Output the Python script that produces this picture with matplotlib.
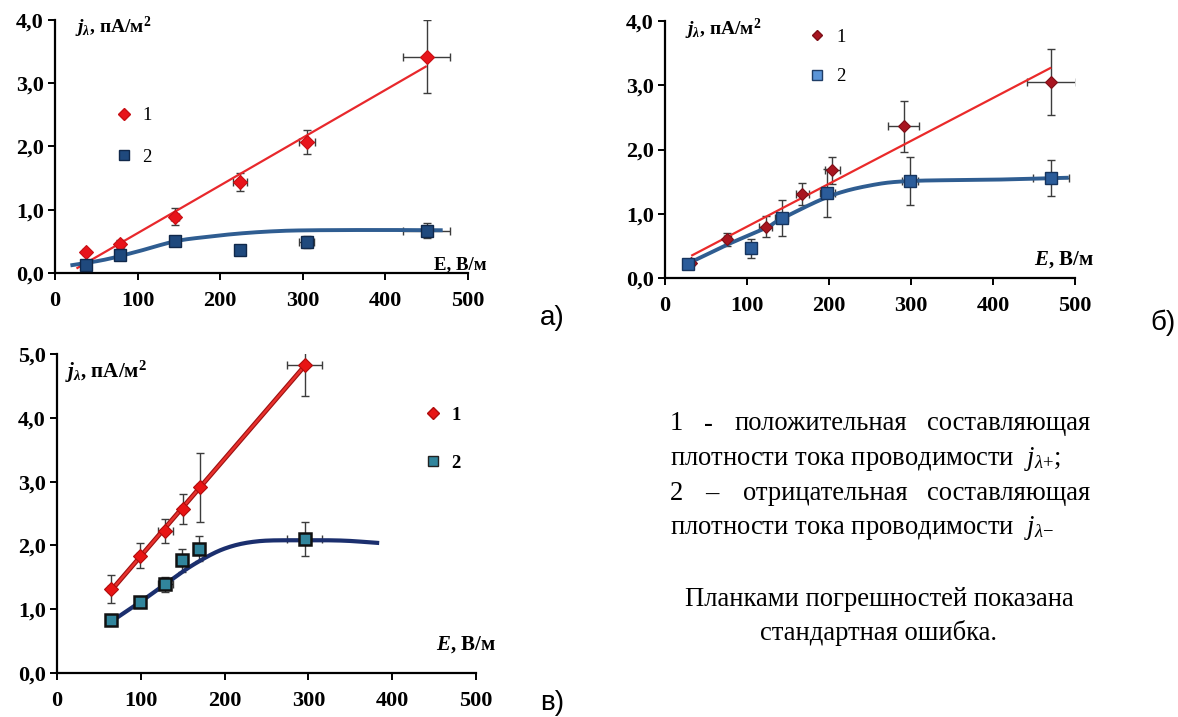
import numpy as np
import matplotlib
matplotlib.use('Agg')
import matplotlib.pyplot as plt
from matplotlib.lines import Line2D

plt.rcParams['font.family'] = ['Liberation Serif', 'DejaVu Serif']
plt.rcParams['mathtext.fontset'] = 'custom'
plt.rcParams['mathtext.rm'] = 'Liberation Serif:bold'
plt.rcParams['mathtext.it'] = 'Liberation Serif:italic:bold'
plt.rcParams['mathtext.cal'] = 'Liberation Serif:italic'
plt.rcParams['mathtext.sf'] = 'Liberation Serif'

# ---- панель а) ----
a_E = [37, 79, 145, 224, 305, 450]
a_E_err1 = [3, 4, 5, 8, 9.5, 28.5]
a_j1 = [0.33, 0.46, 0.89, 1.44, 2.07, 3.42]
a_j1_err = [0.03, 0.06, 0.13, 0.14, 0.19, 0.58]
a_E_err2 = [3, 3, 5, 5, 9, 28.5]
a_j2 = [0.13, 0.28, 0.51, 0.36, 0.49, 0.67]
a_j2_err = [0.03, 0.03, 0.08, 0.04, 0.09, 0.12]
a_line_range = [26, 450]
a_trend_E = [21, 60, 100, 145, 183, 224, 265, 306, 390, 467]
a_trend_j = [0.125, 0.21, 0.34, 0.50, 0.57, 0.625, 0.66, 0.675, 0.68, 0.676]

# ---- панель б) ----
b_E1 = [32, 76, 123, 167.5, 204, 291, 471]
b_E1_err = [2, 4, 8, 8, 9, 19, 30]
b_j1 = [0.23, 0.60, 0.80, 1.31, 1.68, 2.36, 3.05]
b_j1_err = [0.02, 0.10, 0.16, 0.17, 0.21, 0.40, 0.52]
b_E2 = [28, 105, 142.5, 198, 299, 471]
b_E2_err = [2, 3, 8, 9, 10, 22]
b_j2 = [0.22, 0.46, 0.94, 1.32, 1.51, 1.55]
b_j2_err = [0.03, 0.15, 0.28, 0.37, 0.38, 0.28]
b_line_range = [32, 471]
b_trend_E = [32, 76, 123, 142, 200, 250, 300, 400, 490]
b_trend_j = [0.25, 0.52, 0.78, 0.92, 1.27, 1.44, 1.51, 1.53, 1.56]

# ---- панель в) ----
c_E1 = [64, 99, 129, 150, 170.5, 295.5]
c_E1_err = [3, 3, 9, 3, 3, 20.5]
c_j1 = [1.31, 1.84, 2.23, 2.57, 2.91, 4.83]
c_j1_err = [0.22, 0.20, 0.19, 0.23, 0.54, 0.49]
c_E2 = [64, 98.5, 129, 148.6, 169.6, 295.5]
c_E2_err = [3, 3, 9, 3, 3, 20.5]
c_j2 = [0.83, 1.12, 1.39, 1.77, 1.95, 2.10]
c_j2_err = [0.03, 0.05, 0.12, 0.18, 0.20, 0.27]
c_line_range = [64, 295.5]
c_trend_E = [64, 98, 129, 163, 200, 240, 295, 341, 382]
c_trend_j = [0.80, 1.10, 1.39, 1.70, 1.95, 2.065, 2.08, 2.075, 2.04]

x_ticks = [0, 100, 200, 300, 400, 500]

W, H = 1178, 717
fig = plt.figure(figsize=(W / 100, H / 100), dpi=100)


def px(x, y):
    return x / W, 1 - y / H


def make_axes(l, t, r, b, ymax):
    ax = fig.add_axes([l / W, 1 - b / H, (r - l) / W, (b - t) / H])
    ax.set_xlim(0, 500)
    ax.set_ylim(0, ymax)
    ax.set_xticks(x_ticks)
    yt = np.arange(0, ymax + 0.01, 1.0)
    ax.set_yticks(yt)
    ax.set_yticklabels([f"{v:.1f}".replace('.', ',') for v in yt])
    for s in ['top', 'right']:
        ax.spines[s].set_visible(False)
    for s in ['left', 'bottom']:
        ax.spines[s].set_linewidth(1.6)
    ax.tick_params(direction='out', length=5, width=1.4, labelsize=16)
    ax.tick_params(axis='x', pad=8)
    ax.tick_params(axis='y', pad=3)
    for lab in ax.get_xticklabels() + ax.get_yticklabels():
        lab.set_fontweight('bold')
    ax.patch.set_alpha(0)
    return ax


def smooth(xs, ys, n=30):
    # Catmull-Rom через точки тренда
    p = np.column_stack([xs, ys]).astype(float)
    p = np.vstack([2 * p[0] - p[1], p, 2 * p[-1] - p[-2]])
    out = []
    t = np.linspace(0, 1, n)[:, None]
    for i in range(1, len(p) - 2):
        p0, p1, p2, p3 = p[i - 1], p[i], p[i + 1], p[i + 2]
        seg = 0.5 * ((2 * p1) + (-p0 + p2) * t + (2 * p0 - 5 * p1 + 4 * p2 - p3) * t ** 2
                     + (-p0 + 3 * p1 - 3 * p2 + p3) * t ** 3)
        out.append(seg)
    out = np.vstack(out)
    return out[:, 0], out[:, 1]


def draw_series(ax, E, Eerr, j, jerr, marker, ms, fc, ec, mew):
    ax.errorbar(E, j, yerr=jerr, xerr=Eerr, fmt='none', ecolor='#3c3c3c',
                elinewidth=1.0, capsize=3, capthick=1.0, zorder=2)
    ax.plot(E, j, linestyle='none', marker=marker, ms=ms, mfc=fc, mec=ec, mew=mew, zorder=4)


def trend_line(ax, E, j, rng, color, lw):
    k, b0 = np.polyfit(E, j, 1)
    xs = np.array(rng)
    ax.plot(xs, k * xs + b0, color=color, lw=lw, zorder=3, solid_capstyle='butt')


def legend(ax, h1, h2, bold, anchor, spacing):
    leg = ax.legend([h1, h2], ['1', '2'], loc='upper left', bbox_to_anchor=anchor,
                    frameon=False, handlelength=1.0, handletextpad=0.5,
                    labelspacing=spacing, borderaxespad=0,
                    prop={'family': 'Liberation Serif', 'size': 13.5,
                          'weight': 'bold' if bold else 'normal'})
    return leg


# ---- а) ----
ax = make_axes(55, 20, 468, 273, 4.0)
trend_line(ax, a_E, a_j1, a_line_range, '#e8282c', 1.6)
ax.plot(*smooth(a_trend_E, a_trend_j), color='#2f5d91', lw=2.8, zorder=3)
draw_series(ax, a_E, a_E_err1, a_j1, a_j1_err, 'D', 7, '#e8141b', '#c80f14', 0.8)
draw_series(ax, a_E, a_E_err2, a_j2, a_j2_err, 's', 8, '#1f497d', '#10284a', 1.0)
legend(ax,
       Line2D([], [], ls='none', marker='D', ms=6, mfc='#e8141b', mec='#c80f14'),
       Line2D([], [], ls='none', marker='s', ms=7, mfc='#1f497d', mec='#10284a'),
       False, (0.1255, 0.686), 1.31)
fig.text(*px(75, 27), r'$j_{\lambda}$, пА/м$^{2}$', fontsize=14, fontweight='bold', va='center')
fig.text(*px(487, 265), 'E, В/м', fontsize=13.5, fontweight='bold', va='center', ha='right')

# ---- б) ----
ax = make_axes(665, 21, 1075, 278, 4.0)
trend_line(ax, b_E1, b_j1, b_line_range, '#ea2a2a', 1.6)
ax.plot(*smooth(b_trend_E, b_trend_j), color='#2f5d91', lw=2.8, zorder=3)
draw_series(ax, b_E1, b_E1_err, b_j1, b_j1_err, 'D', 6, '#a81520', '#7e0f18', 0.8)
draw_series(ax, b_E2, b_E2_err, b_j2, b_j2_err, 's', 8, '#2b5c9a', '#16345e', 1.0)
legend(ax,
       Line2D([], [], ls='none', marker='D', ms=5.5, mfc='#a81520', mec='#7e0f18'),
       Line2D([], [], ls='none', marker='s', ms=7, mfc='#5b95d8', mec='#1f3d66'),
       False, (0.33, 1.0), 1.2)
fig.text(*px(685, 29), r'$j_{\lambda}$, пА/м$^{2}$', fontsize=14, fontweight='bold', va='center')
fig.text(*px(1094, 260), r'$E$, В/м', fontsize=15, fontweight='bold', va='center', ha='right')

# ---- в) ----
ax = make_axes(57, 354, 476, 673, 5.0)
trend_line(ax, c_E1, c_j1, c_line_range, '#9c1010', 3.4)
trend_line(ax, c_E1, c_j1, c_line_range, '#e8302c', 1.8)
ax.plot(*smooth(c_trend_E, c_trend_j), color='#1b2f6e', lw=3.0, zorder=3)
draw_series(ax, c_E1, c_E1_err, c_j1, c_j1_err, 'D', 7, '#e81414', '#b00c0c', 0.8)
draw_series(ax, c_E2, c_E2_err, c_j2, c_j2_err, 's', 9, '#31859c', '#111111', 1.8)
legend(ax,
       Line2D([], [], ls='none', marker='D', ms=6, mfc='#e81414', mec='#b00c0c'),
       Line2D([], [], ls='none', marker='s', ms=7.5, mfc='#31859c', mec='#222222'),
       True, (0.856, 0.858), 1.63)
fig.text(*px(65, 372), r'$j_{\lambda}$, пА/м$^{2}$', fontsize=15, fontweight='bold', va='center')
fig.text(*px(496, 645), r'$E$, В/м', fontsize=15, fontweight='bold', va='center', ha='right')

# ---- подписи панелей ----
for lab, (x, y) in [('а)', (540, 318)), ('б)', (1150, 323)), ('в)', (540, 703))]:
    fig.text(*px(x, y), lab, fontsize=20, family='Liberation Sans', va='center')

# ---- пояснения справа ----
fs = 19.2
L, R = 670, 1090
fig.text(*px(L, 424), '1', fontsize=fs, va='center')
fig.text(*px(704, 424), '-', fontsize=fs, va='center')
fig.text(*px(735, 424), 'положительная', fontsize=fs, va='center')
fig.text(*px(R, 424), 'составляющая', fontsize=fs, va='center', ha='right')
fig.text(*px(L, 459), r'плотности тока проводимости  $\mathcal{j}_{\mathcal{\lambda}\mathsf{+}}$;',
         fontsize=fs, va='center')
fig.text(*px(L, 494), '2', fontsize=fs, va='center')
fig.text(*px(705, 494), '–', fontsize=fs, va='center')
fig.text(*px(743, 494), 'отрицательная', fontsize=fs, va='center')
fig.text(*px(R, 494), 'составляющая', fontsize=fs, va='center', ha='right')
fig.text(*px(L, 528), r'плотности тока проводимости  $\mathcal{j}_{\mathcal{\lambda}\mathsf{-}}$',
         fontsize=fs, va='center')
fig.text(*px(879, 600), 'Планками погрешностей показана', fontsize=fs, va='center', ha='center')
fig.text(*px(879, 633), 'стандартная ошибка.', fontsize=fs, va='center', ha='center')

fig.savefig('out.png', dpi=100)
